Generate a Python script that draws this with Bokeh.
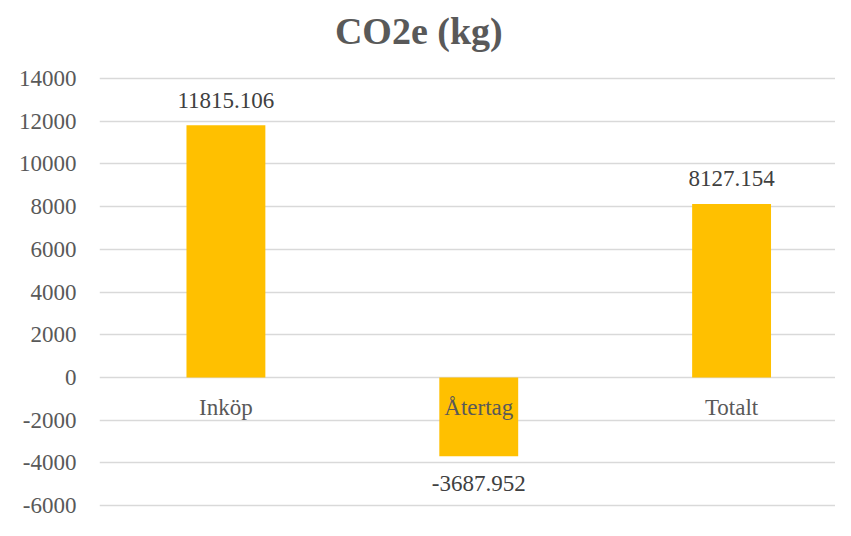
from bokeh.plotting import figure
from bokeh.models import Range1d, LabelSet, Label, ColumnDataSource, FixedTicker, PrintfTickFormatter
from bokeh.embed import file_html
from bokeh.resources import INLINE

title_text = "CO2e (kg)"
categories = ["Inköp", "Återtag", "Totalt"]
values = [11815.106, -3687.952, 8127.154]
value_labels = ["11815.106", "-3687.952", "8127.154"]
y_ticks = [-6000, -4000, -2000, 0, 2000, 4000, 6000, 8000, 10000, 12000, 14000]

FONT = "Liberation Serif"

xs = list(range(len(categories)))
src = ColumnDataSource(dict(
    x=xs, top=values, cat=categories, lab=value_labels,
    zero=[0] * len(values),
))
pos = ColumnDataSource(dict(
    x=[x for x, v in zip(xs, values) if v >= 0],
    y=[v for v in values if v >= 0],
    lab=[l for l, v in zip(value_labels, values) if v >= 0],
))
neg = ColumnDataSource(dict(
    x=[x for x, v in zip(xs, values) if v < 0],
    y=[v for v in values if v < 0],
    lab=[l for l, v in zip(value_labels, values) if v < 0],
))

# frame spans the full height; the top part holds the title
p = figure(width=835, height=520, output_backend="svg", toolbar_location=None,
           x_range=Range1d(-0.5, 2.411), y_range=Range1d(-6140, 17653),
           min_border_left=99, min_border_right=0, min_border_bottom=12, min_border_top=0)
p.outline_line_color = None
p.background_fill_color = "white"
p.border_fill_color = "white"

p.vbar(x="x", top="top", bottom=0, width=0.312, source=src,
       fill_color="#FFC000", line_color=None)

p.xaxis.visible = False
p.xgrid.grid_line_color = None
p.ygrid.grid_line_color = "#d9d9d9"
p.ygrid.grid_line_width = 1.5
p.ygrid.ticker = FixedTicker(ticks=y_ticks)

ya = p.yaxis[0]
ya.ticker = FixedTicker(ticks=y_ticks)
ya.formatter = PrintfTickFormatter(format="%d")
ya.axis_line_color = None
ya.major_tick_line_color = None
ya.minor_tick_line_color = None
ya.major_tick_out = 0
ya.major_label_standoff = 23
ya.major_label_text_font = FONT
ya.major_label_text_font_size = "23px"
ya.major_label_text_color = "#595959"

# chart title
p.add_layout(Label(x=0.763, y=y_ticks[-1], y_offset=47, text=title_text,
                   text_font=FONT, text_font_size="38px", text_font_style="bold",
                   text_color="#595959", text_align="center",
                   text_baseline="middle"))

common = dict(text_font=FONT, text_font_size="23px",
              text_align="center", text_baseline="middle")
p.add_layout(LabelSet(x="x", y="y", text="lab", source=pos, y_offset=25,
                      text_color="#404040", **common))
p.add_layout(LabelSet(x="x", y="y", text="lab", source=neg, y_offset=-27,
                      text_color="#404040", **common))
p.add_layout(LabelSet(x="x", y="zero", text="cat", source=src, y_offset=-30,
                      text_color="#595959", **common))

open("out.html", "w").write(file_html(p, INLINE))
